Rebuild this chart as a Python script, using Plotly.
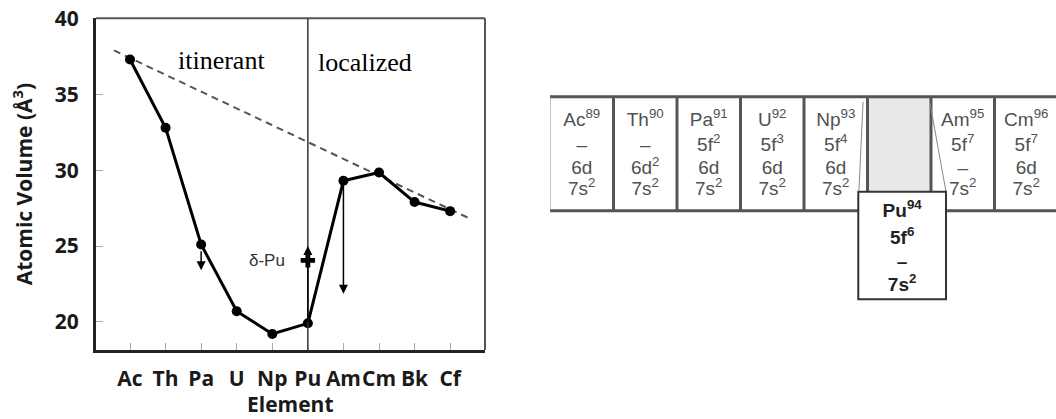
import plotly.graph_objects as go

# ---------------- data ----------------
# Atomic volume of the actinide metals (Å^3)
elements = ["Ac", "Th", "Pa", "U", "Np", "Pu", "Am", "Cm", "Bk", "Cf"]
atomic_volume = [37.3, 32.8, 25.1, 20.7, 19.2, 19.9, 29.3, 29.85, 27.9, 27.3]

# Dashed reference trend (element index, volume)
trend_x = [-0.45, 9.56]
trend_y = [37.9, 26.8]

# Vertical arrows: element, start volume, end volume
arrow_elements = ["Pa", "Am", "Pu"]
arrow_start = [24.75, 29.3, 19.9]
arrow_end = [23.4, 21.85, 25.0]

# delta-phase plutonium
delta_label = "δ-Pu"
delta_element = "Pu"
delta_volume = 24.05

y_ticks = [20, 25, 30, 35, 40]
region_labels = ["itinerant", "localized"]
region_label_x = [2.56, 6.62]
region_label_y = [37.25, 37.12]
boundary_element = "Pu"
x_title = "Element"
y_title = "Atomic Volume (Å<sup>3</sup>)"

# Electron configuration table
table_symbols = ["Ac", "Th", "Pa", "U", "Np", "Pu", "Am", "Cm"]
table_z = [89, 90, 91, 92, 93, 94, 95, 96]
shell_5f = ["–", "–", "5f<sup>2</sup>", "5f<sup>3</sup>", "5f<sup>4</sup>",
            "5f<sup>6</sup>", "5f<sup>7</sup>", "5f<sup>7</sup>"]
shell_6d = ["6d", "6d<sup>2</sup>", "6d", "6d", "6d", "–", "–", "6d"]
shell_7s = ["7s<sup>2</sup>"] * 8
dropped_symbol = "Pu"

# ---------------- styling ----------------
W, H = 1056, 419
AX_FONT = dict(family="Open Sans", size=21, color="#1a1a1a", weight="bold")
TBL_FONT = dict(family="Liberation Sans", size=19, color="#505050")
TBL_FONT_BOLD = dict(family="Liberation Sans", size=19, color="#222222", weight="bold")

xi = list(range(len(elements)))
idx = {e: i for i, e in enumerate(elements)}

fig = go.Figure()

# dashed trend
fig.add_trace(go.Scatter(
    x=trend_x, y=trend_y, mode="lines",
    line=dict(color="#555555", width=2, dash="7px,5px"),
    hoverinfo="skip", showlegend=False))

# measured atomic volumes
fig.add_trace(go.Scatter(
    x=xi, y=atomic_volume, mode="lines+markers",
    line=dict(color="#000000", width=3),
    marker=dict(color="#000000", size=10),
    showlegend=False))

# delta-Pu marker
fig.add_trace(go.Scatter(
    x=[idx[delta_element]], y=[delta_volume], mode="markers",
    marker=dict(symbol="cross", color="#000000", size=12),
    showlegend=False))

# itinerant / localized boundary
fig.add_shape(type="line", xref="x", yref="y domain",
              x0=idx[boundary_element], x1=idx[boundary_element], y0=0, y1=1,
              line=dict(color="#333333", width=1.5))

# top and right frame (thin)
fig.add_shape(type="line", xref="x domain", yref="y domain", x0=0, x1=1, y0=1, y1=1,
              line=dict(color="#555555", width=2))
fig.add_shape(type="line", xref="x domain", yref="y domain", x0=1, x1=1, y0=0, y1=1,
              line=dict(color="#555555", width=2))

# arrows
for el, y0, y1 in zip(arrow_elements, arrow_start, arrow_end):
    fig.add_annotation(x=idx[el], y=y1, ax=idx[el], ay=y0,
                       xref="x", yref="y", axref="x", ayref="y",
                       showarrow=True, arrowhead=2, arrowsize=1.2,
                       arrowwidth=1.5, arrowcolor="#000000", text="")

fig.add_annotation(x=3.85, y=delta_volume, xref="x", yref="y", text=delta_label,
                   showarrow=False, font=dict(family="Liberation Sans", size=17, color="#333333"))

for t, x, y in zip(region_labels, region_label_x, region_label_y):
    fig.add_annotation(x=x, y=y, xref="x", yref="y", text=t, showarrow=False,
                       font=dict(family="Liberation Serif", size=26, color="#000000"))

# x-axis title placed below the tick labels
fig.add_annotation(x=0.5, xref="x domain", y=0, yref="paper", yanchor="bottom",
                   text=x_title, showarrow=False, font=AX_FONT, borderpad=0)

# ---------------- configuration table ----------------
n_cols = len(table_symbols)
row_top, row_bot = 0.0, 1.0
drop = table_symbols.index(dropped_symbol)
box_x0, box_x1 = drop - 0.145, drop + 1.236
box_y0, box_y1 = 0.833, 1.777
line_rows_main = [0.214, 0.436, 0.634, 0.822]
line_rows_box = [1.01, 1.25, 1.459, 1.665]
tbl_line = dict(color="#555555", width=3)
guide = dict(color="#888888", width=1)


def tbl_shape(**kw):
    fig.add_shape(xref="x2", yref="y2", layer="below", **kw)


# empty slot left by the dropped element
tbl_shape(type="rect", x0=drop, x1=drop + 1, y0=row_top, y1=box_y0,
          fillcolor="#e8e8e8", line=dict(width=0))
# row frame
tbl_shape(type="line", x0=0, x1=n_cols + 0.1, y0=row_top, y1=row_top, line=tbl_line)
tbl_shape(type="line", x0=0, x1=n_cols + 0.1, y0=row_bot, y1=row_bot, line=tbl_line)
tbl_shape(type="line", x0=0, x1=0, y0=row_top, y1=row_bot, line=guide)
for c in range(1, n_cols):
    tbl_shape(type="line", x0=c, x1=c, y0=row_top, y1=row_bot, line=tbl_line)
# perspective guides from slot to dropped box
tbl_shape(type="line", x0=drop - 0.07, y0=0.044, x1=box_x0 + 0.01, y1=box_y0 - 0.01, line=guide)
tbl_shape(type="line", x0=drop + 0.984, y0=0.055, x1=box_x1, y1=box_y0, line=guide)
# dropped box
tbl_shape(type="rect", x0=box_x0, x1=box_x1, y0=box_y0, y1=box_y1,
          fillcolor="#ffffff", line=dict(color="#333333", width=2))

for i, sym in enumerate(table_symbols):
    lines = [f"{sym}<sup>{table_z[i]}</sup>", shell_5f[i], shell_6d[i], shell_7s[i]]
    if i == drop:
        cx = (box_x0 + box_x1) / 2
        rows = line_rows_box
        font = TBL_FONT_BOLD
    else:
        cx = i + 0.5
        rows = line_rows_main
        font = TBL_FONT
    fig.add_trace(go.Scatter(
        x=[cx] * 4, y=rows, text=lines, mode="text", xaxis="x2", yaxis="y2",
        textposition="middle center", textfont=font, showlegend=False, hoverinfo="skip"))

# ---------------- layout ----------------
px_top = 96.7
row_px = 114
fig.update_layout(
    width=W, height=H, margin=dict(l=0, r=0, t=0, b=0, autoexpand=False),
    paper_bgcolor="#ffffff", plot_bgcolor="rgba(0,0,0,0)",
    xaxis=dict(domain=[96 / W, 485 / W], range=[-0.956, 9.98], automargin=False,
               tickmode="array", tickvals=xi, ticktext=elements, tickangle=0,
               ticks="inside", ticklen=7, tickcolor="#aaaaaa", tickwidth=1,
               showline=True, linewidth=3, linecolor="#222222",
               showgrid=False, zeroline=False, tickfont=AX_FONT,
               ticklabelstandoff=8),
    yaxis=dict(domain=[1 - 350 / H, 1 - 18.3 / H], range=[18.14, 40.02], automargin=False,
               tickmode="array", tickvals=y_ticks,
               ticks="inside", ticklen=7, tickcolor="#aaaaaa", tickwidth=1,
               showline=True, linewidth=3, linecolor="#222222",
               showgrid=False, zeroline=False, tickfont=AX_FONT,
               ticklabelstandoff=10,
               title=dict(text=y_title, font=AX_FONT, standoff=17)),
    xaxis2=dict(domain=[550 / W, 1.0], range=[0, (W - 550) / 63.5], visible=False, anchor="y2"),
    yaxis2=dict(domain=[0, 1], range=[(H - px_top) / row_px, -px_top / row_px],
                visible=False, anchor="x2"),
)

fig.write_html("out.html")
